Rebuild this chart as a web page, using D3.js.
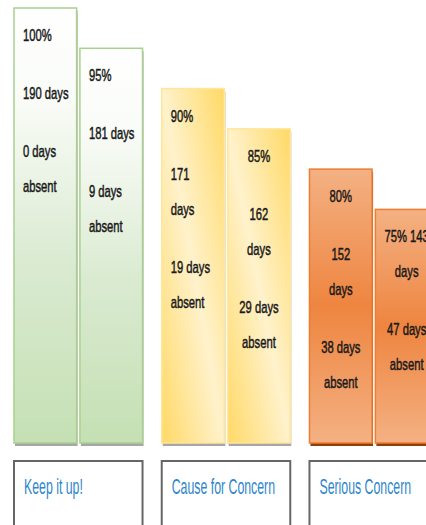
<!DOCTYPE html>
<html>
<head>
<meta charset="utf-8">
<script src="https://cdn.jsdelivr.net/npm/d3@7.9.0/dist/d3.min.js"></script>
<style>
  body { margin: 0; background: #fff; }
  svg { display: block; }
</style>
</head>
<body>
<div id="chart"></div>
<script>
// categories under the bars
const categories = ['Keep it up!', 'Cause for Concern', 'Serious Concern'];

// one entry per bar
const barCategory = [0, 0, 1, 1, 2, 2];
const attendance = [100, 95, 90, 85, 80, 75];
const daysPresent = [190, 181, 171, 162, 152, 143];
const daysAbsent = [0, 9, 19, 29, 38, 47];

// text inside each bar, as it wraps in the picture (paragraphs -> lines)
const barLabels = [
  [['100%'], ['190 days'], ['0 days', 'absent']],
  [['95%'], ['181 days'], ['9 days', 'absent']],
  [['90%'], ['171', 'days'], ['19 days', 'absent']],
  [['85%'], ['162', 'days'], ['29 days', 'absent']],
  [['80%'], ['152', 'days'], ['38 days', 'absent']],
  [['75% 143', 'days'], ['47 days', 'absent']]
];

const width = 426;
const height = 525;
const bottom = 443;

const bars = attendance.map((pct, i) => ({
  pct,
  present: daysPresent[i],
  absent: daysAbsent[i],
  cat: categories[barCategory[i]],
  idx: i % 2,
  group: barCategory[i],
  lines: barLabels[i],
  i
}));

const svg = d3.select('#chart')
  .append('svg')
  .attr('width', width)
  .attr('height', height);

const defs = svg.append('defs');

// green: white at top to soft green at bottom
const gGreen = defs.append('linearGradient')
  .attr('id', 'grad-green').attr('x1', 0).attr('y1', 0).attr('x2', 0).attr('y2', 1);
gGreen.append('stop').attr('offset', '0%').attr('stop-color', '#ffffff');
gGreen.append('stop').attr('offset', '20%').attr('stop-color', '#fafcf8');
gGreen.append('stop').attr('offset', '60%').attr('stop-color', '#d9ead0');
gGreen.append('stop').attr('offset', '100%').attr('stop-color', '#c5e0b4');

// yellow: diagonal, strong yellow at top-right & bottom-left, cream between
const gYellow = defs.append('linearGradient')
  .attr('id', 'grad-yellow').attr('x1', 1).attr('y1', 0).attr('x2', 0).attr('y2', 1);
gYellow.append('stop').attr('offset', '0%').attr('stop-color', '#ffd966');
gYellow.append('stop').attr('offset', '50%').attr('stop-color', '#fff2cc');
gYellow.append('stop').attr('offset', '100%').attr('stop-color', '#ffd966');

// orange: light top, strong middle, light bottom
const gOrange = defs.append('linearGradient')
  .attr('id', 'grad-orange').attr('x1', 0).attr('y1', 0).attr('x2', 0).attr('y2', 1);
gOrange.append('stop').attr('offset', '0%').attr('stop-color', '#f4b183');
gOrange.append('stop').attr('offset', '50%').attr('stop-color', '#ee8540');
gOrange.append('stop').attr('offset', '100%').attr('stop-color', '#f4b183');

const fills = ['url(#grad-green)', 'url(#grad-yellow)', 'url(#grad-orange)'];
const strokes = ['#a9d18e', '#ffe699', '#ed7d31'];
const shadows = ['#a6a6a6', '#a6a6a6', '#8f3f0c'];

const x0 = d3.scaleBand()
  .domain(categories)
  .range([14, 438])
  .paddingInner(0.13);

const x1 = d3.scaleBand()
  .domain([0, 1])
  .range([0, x0.bandwidth()])
  .paddingInner(0.05);

const y = d3.scaleLinear()
  .domain([46, 100])
  .range([bottom, 8]);

const barX = d => x0(d.cat) + x1(d.idx);

const barG = svg.append('g').attr('class', 'bars');

// shadow
barG.selectAll('rect.shadow')
  .data(bars)
  .join('rect')
  .attr('class', 'shadow')
  .attr('x', d => barX(d) + 1)
  .attr('y', d => y(d.pct) + 3)
  .attr('width', x1.bandwidth())
  .attr('height', d => bottom - y(d.pct))
  .attr('fill', d => shadows[d.group]);

barG.selectAll('rect.bar')
  .data(bars)
  .join('rect')
  .attr('class', 'bar')
  .attr('x', d => barX(d))
  .attr('y', d => y(d.pct))
  .attr('width', x1.bandwidth())
  .attr('height', d => bottom - y(d.pct))
  .attr('fill', d => fills[d.group])
  .attr('stroke', d => strokes[d.group])
  .attr('stroke-width', 1.5);

// labels inside bars
const firstLine = 33, lineStep = 35, paraStep = 58;
const labelG = svg.append('g').attr('class', 'bar-labels');

bars.forEach(d => {
  const left = d.i < 3;
  const tx = left ? barX(d) + 9 : barX(d) + x1.bandwidth() / 2;
  let ty = y(d.pct) + firstLine;
  d.lines.forEach((para, p) => {
    if (p > 0) ty += paraStep - lineStep;
    para.forEach((line, l) => {
      if (p > 0 || l > 0) ty += lineStep;
      labelG.append('text')
        .attr('transform', `translate(${tx},${ty}) scale(0.66,1)`)
        .attr('text-anchor', left ? 'start' : 'middle')
        .attr('font-family', 'Liberation Sans, Arial, sans-serif')
        .attr('font-size', 17)
        .attr('fill', '#1a1a1a')
        .attr('stroke', '#1a1a1a')
        .attr('stroke-width', 0.5)
        .text(line);
    });
  });
});

// category boxes
const boxTop = 461;
const boxG = svg.append('g').attr('class', 'category-boxes');

boxG.selectAll('rect')
  .data(categories)
  .join('rect')
  .attr('x', d => x0(d))
  .attr('y', boxTop)
  .attr('width', x0.bandwidth())
  .attr('height', 90)
  .attr('fill', '#fff')
  .attr('stroke', '#666')
  .attr('stroke-width', 2);

boxG.selectAll('text')
  .data(categories)
  .join('text')
  .attr('transform', d => `translate(${x0(d) + 10},${boxTop + 33}) scale(0.56,1)`)
  .attr('font-family', 'Liberation Sans, Arial, sans-serif')
  .attr('font-size', 22)
  .attr('fill', '#2e86cc')
  .text(d => d);
</script>
</body>
</html>
